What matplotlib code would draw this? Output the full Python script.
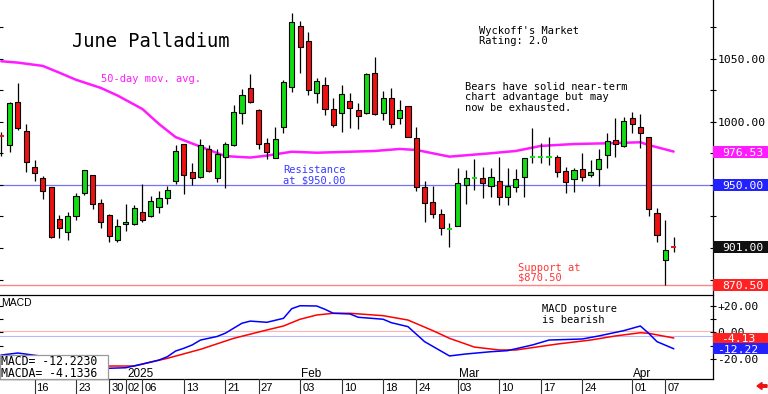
import matplotlib
matplotlib.use("Agg")
import matplotlib.pyplot as plt
import matplotlib.transforms as mtransforms
from matplotlib.patches import Rectangle, FancyArrow
from matplotlib.ticker import FuncFormatter

# daily bars, index 0 = Dec 10 2024 ... index 81 = Apr 08 2025
opens = [989.5, 981.7, 1015.9, 992.9, 964.5, 955.3, 948.2, 922.8, 912.9, 925.6,
         943.4, 957.7, 936.0, 926.4, 906.3, 918.8, 918.8, 928.8, 925.4, 932.8,
         939.4, 953.4, 982.3, 960.1, 956.1, 978.3, 955.3, 972.5, 981.7, 1006.9,
         1026.7, 1009.3, 983.6, 971.7, 996.3, 1028.0, 1076.4, 1064.3, 1022.8, 1029.4,
         1010.3, 1006.9, 1016.9, 1009.3, 1006.9, 1039.1, 1007.4, 1019.3, 1002.9, 1012.9,
         987.5, 948.7, 936.7, 927.0, 915.2, 917.7, 950.0, 955.2, 955.3, 949.4,
         953.2, 940.2, 948.2, 956.1, 971.9, 972.4, 972.4, 972.0, 961.3, 954.5,
         962.9, 957.9, 962.5, 973.8, 985.7, 981.0, 1002.9, 996.3, 987.9, 927.5,
         890.5, 901.6]
highs = [992.0, 1016.0, 1030.7, 998.4, 969.8, 957.1, 948.5, 926.2, 928.8, 943.9,
         962.0, 958.0, 938.7, 927.0, 922.8, 934.7, 934.1, 950.6, 941.5, 945.2,
         949.2, 981.5, 982.5, 967.2, 986.3, 981.7, 978.3, 984.4, 1013.5, 1026.2,
         1038.1, 1010.3, 987.0, 996.3, 1033.3, 1086.3, 1080.2, 1071.7, 1035.2, 1036.0,
         1019.3, 1029.4, 1023.3, 1014.8, 1038.5, 1051.3, 1024.8, 1026.7, 1017.5, 1013.0,
         995.8, 953.2, 949.2, 930.7, 920.1, 963.3, 961.9, 970.4, 964.0, 963.7,
         972.5, 963.7, 962.5, 971.4, 995.0, 983.6, 987.9, 973.8, 964.5, 963.7,
         975.2, 969.8, 978.3, 991.0, 1003.4, 1003.7, 1008.2, 1006.3, 988.1, 931.5,
         922.2, 908.5]
lows = [973.0, 976.4, 993.6, 960.1, 953.4, 938.7, 907.7, 907.7, 906.3, 922.2,
        942.1, 931.0, 915.6, 905.0, 905.0, 913.5, 918.3, 920.9, 924.8, 928.0,
        934.9, 950.8, 942.6, 950.0, 955.8, 960.6, 952.6, 947.9, 981.2, 998.2,
        1015.3, 978.6, 970.6, 971.2, 991.0, 1023.6, 1038.7, 1021.4, 1014.8, 1005.6,
        995.8, 992.3, 995.0, 994.2, 1006.3, 1005.6, 1001.6, 995.0, 998.4, 988.0,
        945.5, 920.9, 924.0, 910.3, 901.0, 917.5, 934.7, 946.0, 939.4, 940.7,
        934.1, 934.1, 944.7, 940.7, 967.2, 967.7, 965.9, 956.1, 943.9, 944.7,
        953.2, 956.6, 949.4, 963.3, 972.5, 980.4, 991.5, 979.1, 925.4, 905.0,
        870.6, 897.1]
closes = [989.0, 1015.3, 995.5, 968.0, 959.3, 945.2, 909.0, 915.6, 925.4, 941.3,
          961.9, 934.7, 920.9, 909.5, 917.5, 920.6, 931.5, 922.2, 937.3, 939.4,
          946.0, 977.0, 957.9, 955.8, 981.7, 961.3, 974.6, 982.3, 1007.7, 1021.4,
          1015.6, 982.3, 976.4, 986.5, 1031.5, 1079.6, 1059.8, 1025.4, 1032.5, 1010.1,
          997.6, 1022.0, 1010.9, 1005.0, 1037.9, 1006.1, 1019.3, 998.4, 1009.3, 988.3,
          948.2, 936.0, 927.0, 915.6, 915.4, 951.3, 955.8, 955.4, 951.3, 956.3,
          940.7, 949.2, 955.0, 971.2, 972.1, 972.6, 972.6, 960.6, 952.6, 961.7,
          956.1, 960.6, 970.4, 985.2, 982.3, 1001.0, 998.4, 991.5, 930.7, 910.3,
          898.4, 901.0]

# 50-day moving average, read at these bar indexes
ma_idx = [0, 2, 5, 7, 9, 12, 14, 17, 19, 21, 24, 27, 30, 32, 35, 38, 42, 45,
          48, 50, 54, 59, 62, 65, 69, 73, 77, 78, 81]
ma_vals = [1048.2, 1047.1, 1044.5, 1039.1, 1033.5, 1027.0, 1021.0, 1010.3, 998.4,
           988.0, 980.4, 972.9, 971.8, 973.3, 976.4, 975.6, 976.4, 977.0, 978.6,
           977.8, 972.5, 975.2, 977.0, 981.0, 982.5, 983.1, 983.9, 981.7, 976.53]

macd_idx = [0, 2, 5, 9, 13, 15, 17, 19, 20, 21, 22, 23, 24, 26, 27, 29, 30, 32,
            34, 35, 36, 38, 39, 40, 42, 43, 46, 47, 49, 51, 54, 56, 59, 61, 64,
            66, 70, 72, 75, 77, 78, 79, 81]
macd_vals = [-17.0, -15.5, -18.0, -24.0, -27.0, -26.6, -23.8, -20.8, -18.3, -14.0,
             -11.9, -9.4, -5.7, -3.0, -0.5, 7.0, 8.6, 7.7, 10.7, 18.0,
             20.2, 20.0, 17.5, 14.5, 14.0, 11.5, 10.0, 7.4, 4.4, -6.9,
             -17.7, -16.2, -14.5, -13.7, -9.4, -5.7, -4.9, -2.6, 1.4, 4.9,
             -0.6, -6.9, -12.22]
signal_idx = [0, 5, 9, 13, 16, 20, 24, 28, 32, 34, 36, 38, 40, 42, 46, 49, 52,
              54, 57, 60, 62, 67, 71, 74, 77, 78, 81]
signal_vals = [-19.0, -21.5, -24.0, -25.3, -25.3, -19.5, -12.7, -4.4, 1.9, 4.9,
               10.0, 13.2, 14.5, 14.5, 12.7, 9.4, 1.4, -4.4, -11.0, -13.2,
               -13.2, -8.7, -5.7, -2.6, -0.2, -0.6, -4.13]

day_ticks = [4, 9, 13, 15, 17, 22, 27, 31, 36, 41, 46, 50, 55, 60, 65, 70, 76, 80]
day_labels = ["16", "23", "30", "02", "06", "13", "21", "27", "03", "10",
              "18", "24", "03", "10", "17", "24", "01", "07"]
month_ticks = [15, 36, 55, 76]
month_labels = ["2025", "Feb", "Mar", "Apr"]

resistance = 950.0
support = 870.5
ma_last = 976.53
last_close = 901.0
macd_last = -12.2230
macda_last = -4.1336

MONO = "DejaVu Sans Mono"
SANS = "Liberation Sans"
GREEN = "#14dc14"
RED = "#ee1111"
MAGENTA = "#ff1aff"

W, H = 768, 394
fig = plt.figure(figsize=(W / 100, H / 100), dpi=100)


def fx(x):
    return x / W


def fy(y):
    return 1 - y / H


ax = fig.add_axes([0, fy(294), fx(713), 294 / H])
ax2 = fig.add_axes([0, fy(379), fx(713), (379 - 295) / H])
ax3 = fig.add_axes([0, 0, fx(713), fy(379)])

xlim = (-0.157, 85.75)

# ---- price panel
ax.set_xlim(*xlim)
ax.set_ylim(863.5, 1096.8)
ax.axhline(resistance, color="#7272ff", lw=0.9, zorder=1)
ax.axhline(support, color="#ff8484", lw=1.0, zorder=1)
ax.plot(ma_idx, ma_vals, color=MAGENTA, lw=1.8, zorder=2, solid_capstyle="round")

n = len(closes)
ax.vlines(range(n), lows, highs, color="black", lw=0.9, zorder=3)
for i in range(n):
    o, c = opens[i], closes[i]
    col = GREEN if c >= o else RED
    if abs(c - o) < 1.0:
        ax.hlines(c, i - 0.32, i + 0.32, color=col, lw=1.4, zorder=4)
    else:
        ax.add_patch(Rectangle((i - 0.31, min(o, c)), 0.62, abs(c - o),
                               facecolor=col, edgecolor="black", lw=0.8, zorder=4))

# labels at 900/950 sit under the value boxes, so only 1000 and 1050 are written
ax.yaxis.tick_right()
ax.set_yticks([1000, 1050])
ax.set_yticks([875, 900, 925, 950, 975, 1025, 1075], minor=True)
ax.yaxis.set_major_formatter(FuncFormatter(lambda v, p: f"{v:.2f}"))
ax.tick_params(axis="y", which="both", left=True, right=True, direction="inout",
               length=4, width=0.8, pad=1, labelsize=8.2, labelfontfamily=MONO)
ax.set_xticks([])
for s in ["top", "left", "bottom"]:
    ax.spines[s].set_visible(False)
ax.spines["right"].set_linewidth(0.9)

trans = mtransforms.blended_transform_factory(ax.transAxes, ax.transData)
for val, col in [(ma_last, MAGENTA), (resistance, "#2222ff"),
                 (last_close, "#111111"), (support, "#ff2222")]:
    ax.add_patch(Rectangle((1.0, val - 4.75), 56 / 713, 9.5, transform=trans,
                           facecolor=col, edgecolor="none", clip_on=False, zorder=6))
    ax.text(1.0 + 9 / 713, val, f"{val:.2f}", transform=trans, color="white",
            fontsize=8.2, family=MONO, ha="left", va="center_baseline",
            clip_on=False, zorder=7)

# ---- MACD panel
ax2.set_xlim(*xlim)
ax2.set_ylim(-35.1, 28.3)
ax2.axhline(1, color="#ffb4b4", lw=0.8, zorder=1)
ax2.axhline(-3, color="#b8b8ff", lw=0.8, zorder=1)
ax2.plot(macd_idx, macd_vals, color="#0000ff", lw=1.1, zorder=3)
ax2.plot(signal_idx, signal_vals, color="#ff0000", lw=1.1, zorder=2)
ax2.yaxis.tick_right()
ax2.set_yticks([-20, 0, 20])
ax2.set_yticks([-10, 10], minor=True)
ax2.yaxis.set_major_formatter(FuncFormatter(lambda v, p: "0.00" if v == 0 else f"{v:+.2f}"))
ax2.tick_params(axis="y", which="both", left=True, right=True, direction="inout",
                length=4, width=0.8, pad=1, labelsize=8.2, labelfontfamily=MONO)
ax2.set_xticks([])
ax2.spines["left"].set_visible(False)
for s in ["top", "right", "bottom"]:
    ax2.spines[s].set_linewidth(0.9)

trans2 = mtransforms.blended_transform_factory(ax2.transAxes, ax2.transData)
for val, col, dx in [(macda_last, "#ff2222", 8), (macd_last, "#2222ff", 4)]:
    ax2.add_patch(Rectangle((1.0, val - 4.1), 56 / 713, 8.2, transform=trans2,
                            facecolor=col, edgecolor="none", clip_on=False, zorder=6))
    ax2.text(1.0 + dx / 713, val, f"{val:.2f}", transform=trans2, color="white",
             fontsize=8.2, family=MONO, ha="left", va="center_baseline",
             clip_on=False, zorder=7)

for i, lab in zip(month_ticks, month_labels):
    ax2.text(i + 0.15, -33.4, lab, fontsize=8.5, family=SANS, va="baseline")

# ---- date row
ax3.set_xlim(*xlim)
ax3.set_ylim(0, 1)
ax3.axis("off")
for i, lab in zip(day_ticks, day_labels):
    ax3.axvline(i, color="#333333", lw=0.8)
    ax3.text(i + 0.25, 0.2, lab, fontsize=8, family=SANS, va="baseline")


# ---- annotations
def note(x, y, lines, color="black", size=7.5, step=10.5):
    for k, line in enumerate(lines):
        fig.text(fx(x), fy(y + k * step), line, color=color, fontsize=size,
                 family=MONO, va="baseline")


fig.text(fx(72), fy(47), "June Palladium", fontsize=13.5, family=MONO, va="baseline")
note(101, 82.5, ["50-day mov. avg."], color=MAGENTA)
note(479, 33.5, ["Wyckoff's Market", "Rating: 2.0"], step=10.7)
note(465, 90, ["Bears have solid near-term", "chart advantage but may",
               "now be exhausted."], step=10.3)
note(283, 173.3, ["Resistance", "at $950.00"], color="#3a3aff", step=10.2)
note(518, 270.7, ["Support at", "$870.50"], color="#ff3535", step=10)
note(542, 312.5, ["MACD posture", "is bearish"], step=10.2)
fig.text(fx(1), fy(305.5), "MACD", fontsize=7.5, family=SANS, va="baseline")

fig.add_artist(Rectangle((0, fy(379)), fx(108), (379 - 354.5) / H,
                         transform=fig.transFigure, facecolor="white",
                         edgecolor="#999999", lw=0.9, zorder=5))
fig.text(fx(1), fy(365), f"MACD= {macd_last:.4f}", fontsize=8.3, family=MONO,
         va="baseline", zorder=6)
fig.text(fx(1), fy(376.7), f"MACDA= {macda_last:.4f}", fontsize=8.3, family=MONO,
         va="baseline", zorder=6)

fig.add_artist(FancyArrow(767, 8, -10, 0, width=2.5, head_width=7, head_length=5,
                          length_includes_head=True, color=RED,
                          transform=mtransforms.IdentityTransform()))

fig.savefig("out.png", dpi=100)
